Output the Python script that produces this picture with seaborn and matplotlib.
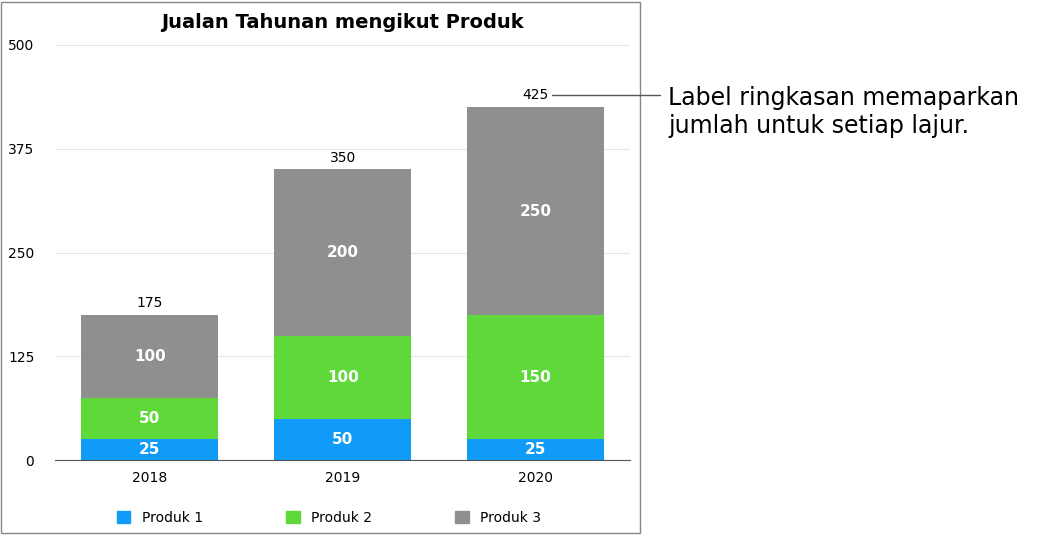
import matplotlib
matplotlib.use("Agg")
import matplotlib.pyplot as plt
import seaborn as sns
import pandas as pd
from matplotlib.patches import Rectangle, Patch

years = ["2018", "2019", "2020"]
produk1 = [25, 50, 25]
produk2 = [50, 100, 150]
produk3 = [100, 200, 250]
series_names = ["Produk 1", "Produk 2", "Produk 3"]
colors = ["#0f9bf7", "#5fd93a", "#8f8f8f"]
yticks = [0, 125, 250, 375, 500]

sns.set_style("white")
plt.rcParams['font.family'] = ['DejaVu Sans']
plt.rcParams['text.color'] = 'black'
plt.rcParams['xtick.color'] = 'black'
plt.rcParams['ytick.color'] = 'black'
fig = plt.figure(figsize=(10.61, 5.35), dpi=100)
ax = fig.add_axes([0.052, 0.14, 0.542, 0.776])

df = pd.DataFrame({"year": years, "p1": produk1, "p2": produk2, "p3": produk3})
bottoms = [0, 0, 0]
for col, c in zip(["p1", "p2", "p3"], colors):
    sns.barplot(data=df, x="year", y=col, color=c, width=0.71, bottom=bottoms,
                ax=ax, saturation=1, edgecolor="none")
    vals = df[col].tolist()
    for i, v in enumerate(vals):
        ax.text(i, bottoms[i] + v / 2, str(v), ha="center", va="center",
                color="white", fontsize=11, fontweight="bold")
    bottoms = [b + v for b, v in zip(bottoms, vals)]
totals = bottoms
for i, t in enumerate(totals):
    ax.text(i, t + 6, str(t), ha="center", va="bottom", fontsize=10, color="black")

ax.set_ylim(0, 500)
ax.set_xlim(-0.49, 2.49)
ax.set_yticks(yticks)
ax.set_yticklabels([str(t) for t in yticks], fontsize=10)
ax.tick_params(axis="y", length=0, pad=15)
ax.tick_params(axis="x", length=0, pad=8, labelsize=10)
ax.yaxis.grid(True, color="#e6e6e6", lw=0.8)
ax.set_axisbelow(True)
for s in ["top", "right", "left"]:
    ax.spines[s].set_visible(False)
ax.spines["bottom"].set_color("#555555")
ax.set_xlabel("")
ax.set_ylabel("")
ax.set_title("Jualan Tahunan mengikut Produk", fontsize=14, fontweight="bold", pad=12)

handles = [Patch(color=c) for c in colors]
fig.legend(handles, series_names, loc="center", bbox_to_anchor=(0.31, 0.032), ncol=3,
           frameon=False, fontsize=10, handlelength=1.0, handleheight=1.0, columnspacing=6)

fig.patches.append(Rectangle((0.001, 0.003), 0.602, 0.994, transform=fig.transFigure,
                             fill=False, edgecolor="#888888", lw=1))

fig.add_artist(plt.Line2D([552 / 1061, 660 / 1061], [1 - 95 / 535, 1 - 95 / 535],
                          color="#555555", lw=1))
fig.text(668 / 1061, 1 - 112 / 535, "Label ringkasan memaparkan\njumlah untuk setiap lajur.",
         fontsize=17, va="center", ha="left", linespacing=1.2)

fig.savefig("out.png", dpi=100)
